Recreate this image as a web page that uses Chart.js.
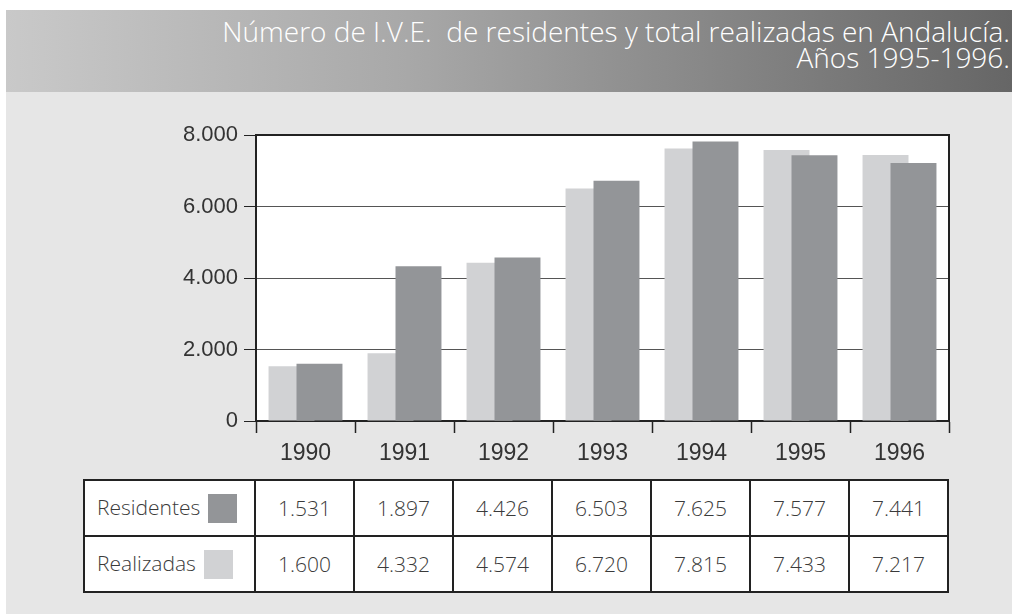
<!DOCTYPE html>
<html>
<head>
<meta charset="utf-8">
<script src="https://cdn.jsdelivr.net/npm/chart.js@4"></script>
<style>
  html, body { margin: 0; padding: 0; background: #fff; }
  #wrap { position: relative; width: 1012px; height: 614px; overflow: hidden; }
  #fondo { position: absolute; left: 6px; top: 92px; width: 1006px; height: 522px; background: #e6e6e6; }
  #banner { position: absolute; left: 6px; top: 10px; width: 1006px; height: 82px;
    background: linear-gradient(to right, #c9c9c9 0%, #a8a8a8 40%, #666 100%); }
  #titulo { position: absolute; right: 2px; top: 18px; text-align: right; color: #fff;
    font-family: "Open Sans", sans-serif; font-weight: 300; font-size: 28px; line-height: 26px; }
  #chart { position: absolute; left: 0; top: 0; }
  #tabla { position: absolute; left: 83px; top: 479px; border-collapse: collapse;
    font-family: "Open Sans", sans-serif; font-weight: 300; font-size: 21px; color: #3a3a3a; background: #fff; }
  #tabla td { border: 2px solid #222; height: 54px; padding: 0; text-align: center; width: 97px; }
  #tabla td.lab { width: 171px; text-align: left; padding-left: 12px; box-sizing: border-box; }
  .sw { display: inline-block; width: 29px; height: 29px; vertical-align: middle; margin-left: 8px; }
</style>
</head>
<body>
<div id="wrap">
  <div id="fondo"></div>
  <div id="banner"></div>
  <div id="titulo">Número de I.V.E.&nbsp; de residentes y total realizadas en Andalucía.<br>Años 1995-1996.</div>
  <canvas id="chart" width="1012" height="614"></canvas>
  <table id="tabla"></table>
</div>
<script>
// datos
const anios = ['1990', '1991', '1992', '1993', '1994', '1995', '1996'];
const residentes = [1531, 1897, 4426, 6503, 7625, 7577, 7441];
const realizadas = [1600, 4332, 4574, 6720, 7815, 7433, 7217];
const yMax = 8000;
const yPaso = 2000;

const colorClaro = '#d1d2d4';
const colorOscuro = '#939598';

function miles(v) {
  return String(v).replace(/\B(?=(\d{3})+(?!\d))/g, '.');
}

// tabla de valores (la muestra original invierte los cuadritos de color)
const tabla = document.getElementById('tabla');
[['Residentes', residentes, colorOscuro], ['Realizadas', realizadas, colorClaro]].forEach(fila => {
  const tr = document.createElement('tr');
  const td0 = document.createElement('td');
  td0.className = 'lab';
  td0.innerHTML = fila[0] + '<span class="sw" style="background:' + fila[2] + '"></span>';
  tr.appendChild(td0);
  fila[1].forEach(v => {
    const td = document.createElement('td');
    td.textContent = miles(v);
    tr.appendChild(td);
  });
  tabla.appendChild(tr);
});

const marco = {
  id: 'marco',
  beforeDraw(chart) {
    const a = chart.chartArea, ctx = chart.ctx;
    ctx.save();
    ctx.fillStyle = '#fff';
    ctx.fillRect(a.left, a.top, a.right - a.left, a.bottom - a.top);
    ctx.restore();
  },
  // la barra clara va detrás de la oscura
  beforeDatasetsDraw(chart) {
    chart.getDatasetMeta(0).controller.draw();
  },
  beforeDatasetDraw(chart, args) {
    if (args.index === 0) return false;
  },
  afterDraw(chart) {
    const a = chart.chartArea, ctx = chart.ctx;
    ctx.save();
    ctx.strokeStyle = '#222';
    ctx.lineWidth = 2;
    ctx.beginPath();
    ctx.moveTo(a.left, a.top);
    ctx.lineTo(a.right, a.top);
    ctx.lineTo(a.right, a.bottom);
    ctx.stroke();
    ctx.restore();
  }
};

new Chart(document.getElementById('chart').getContext('2d'), {
  type: 'bar',
  data: {
    labels: anios,
    datasets: [
      { label: 'Residentes', data: residentes, backgroundColor: colorClaro },
      { label: 'Realizadas', data: realizadas, backgroundColor: colorOscuro }
    ]
  },
  options: {
    responsive: false,
    animation: false,
    devicePixelRatio: 1,
    categoryPercentage: 0.565,
    barPercentage: 1.643,
    layout: { padding: { top: 135, right: 63, left: 0, bottom: 0 } },
    plugins: {
      legend: { display: false },
      tooltip: { enabled: false }
    },
    scales: {
      x: {
        afterFit: s => { s.height = 193; },
        grid: { offset: true, drawOnChartArea: false, tickLength: 12, tickColor: '#222', tickWidth: 1.5 },
        border: { color: '#222', width: 2 },
        ticks: { color: '#333', padding: 7, font: { family: 'Liberation Sans', size: 23 } }
      },
      y: {
        min: 0,
        max: yMax,
        afterFit: s => { s.width = 256; },
        grid: { color: '#555', lineWidth: 1, tickLength: 12, tickColor: '#222' },
        border: { color: '#222', width: 2 },
        ticks: {
          stepSize: yPaso,
          color: '#333',
          padding: 6,
          font: { family: 'Liberation Sans', size: 22 },
          callback: v => miles(v)
        }
      }
    }
  },
  plugins: [marco]
});
</script>
</body>
</html>
